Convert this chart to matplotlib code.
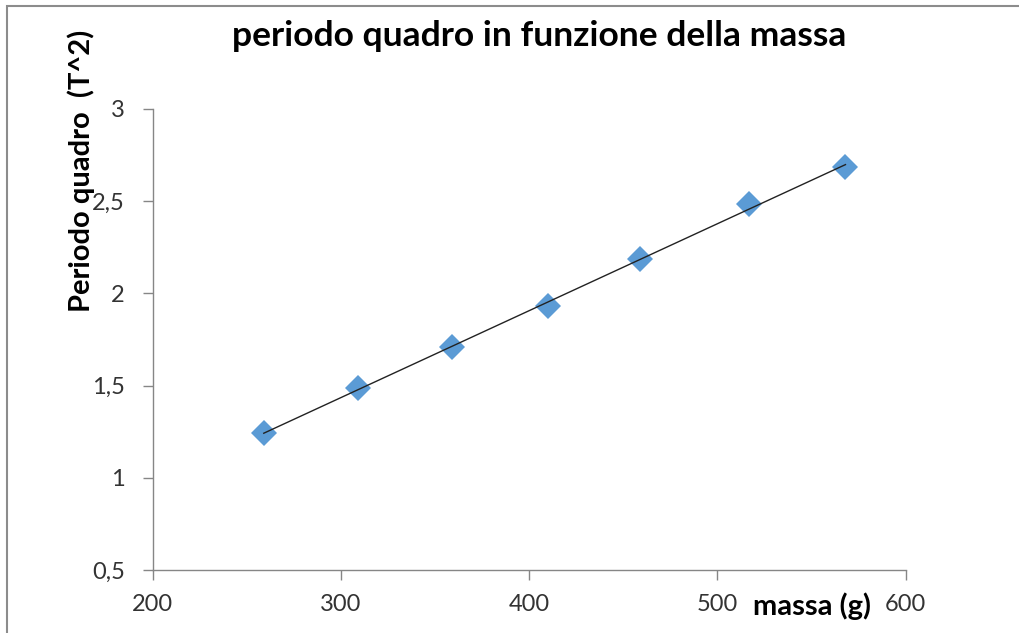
import numpy as np
import matplotlib.pyplot as plt
from matplotlib.patches import Rectangle
from matplotlib.ticker import FuncFormatter

# dati
massa = [259, 309, 359, 410, 459, 517, 568]
periodo_quadro = [1.245, 1.485, 1.71, 1.93, 2.185, 2.485, 2.687]
x_ticks = [200, 300, 400, 500, 600]
y_ticks = [0.5, 1, 1.5, 2, 2.5, 3]

plt.rcParams['font.family'] = ['Lato', 'DejaVu Sans']

fig = plt.figure(figsize=(10.19, 6.33), dpi=100)
ax = fig.add_axes([152.7 / 1019, 1 - 570 / 633, 753 / 1019, 461 / 633])

# linea di tendenza lineare
m, q = np.polyfit(massa, periodo_quadro, 1)
xs = np.array([min(massa), max(massa)])
ax.plot(xs, m * xs + q, color='#222222', lw=1.0, zorder=3)
ax.plot(massa, periodo_quadro, 'D', color='#5B9BD5', markersize=13, markeredgewidth=0, zorder=2)

ax.set_xlim(200, 600)
ax.set_ylim(0.5, 3)
ax.set_xticks(x_ticks)
ax.set_yticks(y_ticks)
ax.yaxis.set_major_formatter(FuncFormatter(lambda v, p: ('%g' % v).replace('.', ',')))

for s in ['top', 'right']:
    ax.spines[s].set_visible(False)
for s in ['left', 'bottom']:
    ax.spines[s].set_color('#868686')
    ax.spines[s].set_linewidth(1.0)
ax.tick_params(colors='#868686', labelcolor='#333333', length=7, width=1.0, labelsize=17)
ax.tick_params(axis='y', pad=13)
ax.tick_params(axis='x', pad=10)

fig.text(539 / 1019, 1 - 36 / 633, 'periodo quadro in funzione della massa',
         ha='center', va='center', fontsize=25.5, fontweight='bold')
fig.text(81 / 1019, 1 - 171 / 633, 'Periodo quadro  (T^2)', rotation=90,
         ha='center', va='center', fontsize=21, fontweight='bold')
fig.text(812 / 1019, 1 - 606 / 633, 'massa (g)', ha='center', va='center',
         fontsize=21, fontweight='bold')

# bordo dell'area del grafico
fig.patches.append(Rectangle((7 / 1019, -0.1), 1.2, 1 - 6 / 633 + 0.1,
                             transform=fig.transFigure, fill=False,
                             edgecolor='#8c8c8c', lw=1.5))

fig.savefig('out.png', dpi=100)
